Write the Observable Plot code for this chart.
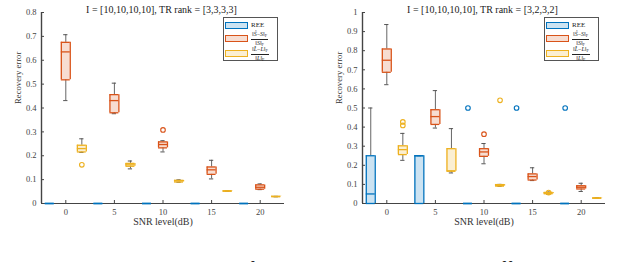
<!DOCTYPE html>
<html><head><meta charset="utf-8">
<script src="https://cdn.jsdelivr.net/npm/d3@7"></script>
<script src="https://cdn.jsdelivr.net/npm/@observablehq/plot@0.6"></script>
<style>
body{margin:0;background:#fff;font-family:"Liberation Serif",serif;overflow:hidden;}
#row{display:flex;width:640px;height:240px;}
.panel{position:relative;width:320px;height:240px;}
.legend{position:absolute;border:1px solid #555;background:#fff;box-sizing:border-box;}
.item{position:absolute;left:1px;display:flex;align-items:center;}
.patch{display:inline-block;width:21px;height:5px;border:1.3px solid;margin-right:3px;}
.lab{font-size:7px;color:#222;line-height:1;}
.frac{display:inline-flex;flex-direction:column;align-items:center;font-size:6px;line-height:1;color:#222;}
.frac .num{border-bottom:0.6px solid #222;padding:0 1px 0.5px;}
.frac sub{font-size:4.2px;vertical-align:-1px;}
#caption{position:absolute;left:0;top:259px;width:900px;font-size:20px;line-height:20px;white-space:nowrap;color:#222;}
</style></head>
<body>
<div id="row"><div class="panel" id="p1"></div><div class="panel" id="p2"></div></div>
<div id="caption">Figure 5: &nbsp;The recovery error of sparse, noise and REE with different SNR levels.</div>
<script>
// ---------- data ----------
const snr = [0, 5, 10, 15, 20];
const seriesNames = ["REE", "S", "L"];
const xTicks = [0, 5, 10, 15, 20];
const yTicks1 = [0, 0.1, 0.2, 0.3, 0.4, 0.5, 0.6, 0.7, 0.8];
const yTicks2 = [0, 0.1, 0.2, 0.3, 0.4, 0.5, 0.6, 0.7, 0.8, 0.9, 1];
const title1 = "I = [10,10,10,10], TR rank = [3,3,3,3]";
const title2 = "I = [10,10,10,10], TR rank = [3,2,3,2]";
const xLabel = "SNR level(dB)";
const yLabel = "Recovery error";

// box stats per SNR: [min, q1, median, q3, max]
const ree1 = [[0,0,0,0,0],[0,0,0,0,0],[0,0,0,0,0],[0,0,0,0,0],[0,0,0,0,0]];
const s1 = [[0.431,0.518,0.635,0.675,0.707],[0.376,0.380,0.431,0.456,0.504],[0.216,0.233,0.247,0.258,0.263],[0.103,0.122,0.141,0.153,0.181],[0.058,0.060,0.068,0.078,0.082]];
const l1 = [[0.214,0.216,0.230,0.244,0.271],[0.145,0.156,0.162,0.168,0.178],[0.089,0.090,0.095,0.097,0.099],[0.051,0.052,0.052,0.053,0.053],[0.028,0.029,0.029,0.030,0.030]];
const out1 = [{snr:10, series:"S", v:0.308},{snr:0, series:"L", v:0.162}];

const ree2 = [[0,0,0.05,0.25,0.5],[0,0,0.25,0.25,0.25],[0,0,0,0,0],[0,0,0,0,0],[0,0,0,0,0]];
const s2 = [[0.622,0.687,0.750,0.809,0.937],[0.395,0.414,0.455,0.491,0.591],[0.208,0.247,0.270,0.287,0.314],[0.120,0.123,0.141,0.155,0.187],[0.063,0.076,0.085,0.093,0.106]];
const l2 = [[0.226,0.256,0.282,0.302,0.367],[0.160,0.169,0.171,0.287,0.392],[0.090,0.091,0.095,0.099,0.100],[0.049,0.051,0.054,0.058,0.060],[0.027,0.028,0.028,0.029,0.030]];
const out2 = [{snr:10, series:"REE", v:0.5},{snr:15, series:"REE", v:0.5},{snr:20, series:"REE", v:0.5},
              {snr:10, series:"S", v:0.363},
              {snr:0, series:"L", v:0.427},{snr:0, series:"L", v:0.409},{snr:10, series:"L", v:0.540},{snr:15, series:"L", v:0.057}];

// ---------- styling ----------
const colors = {REE:"#0072BD", S:"#D95319", L:"#EDB120"};
const offset = {REE:-1.65, S:0, L:1.65};
const halfW = 0.46, capW = 0.22;
const xDomain = [-2.5, 22.5];

function table(ree, s, l) {
  const rows = [];
  [[ "REE", ree ], [ "S", s ], [ "L", l ]].forEach(([name, arr]) => {
    arr.forEach((st, i) => rows.push({snr: snr[i], series: name, min: st[0], q1: st[1], med: st[2], q3: st[3], max: st[4]}));
  });
  return rows;
}

function chart(rows, outs, yDomain, yTicks, title, mL, mR) {
  const xc = d => d.snr + offset[d.series];
  const col = d => colors[d.series];
  return Plot.plot({
    width: 320, height: 240,
    marginLeft: mL, marginRight: mR, marginTop: 12, marginBottom: 37,
    x: {domain: xDomain},
    y: {domain: yDomain},
    style: {fontFamily: "Liberation Serif, serif", background: "#fff", color: "#333"},
    marks: [
      // whiskers
      Plot.ruleX(rows, {x: xc, y1: "q3", y2: "max", stroke: "#666", strokeWidth: 1}),
      Plot.ruleX(rows, {x: xc, y1: "min", y2: "q1", stroke: "#666", strokeWidth: 1}),
      Plot.ruleY(rows, {y: "max", x1: d => xc(d) - capW, x2: d => xc(d) + capW, stroke: "#555", strokeWidth: 1}),
      Plot.ruleY(rows, {y: "min", x1: d => xc(d) - capW, x2: d => xc(d) + capW, stroke: "#555", strokeWidth: 1}),
      // axes lines
      Plot.ruleY([yDomain[0]], {stroke: "#444", strokeWidth: 1.2}),
      Plot.ruleX([xDomain[0]], {stroke: "#444", strokeWidth: 1.4}),
      // box fill
      Plot.rect(rows, {x1: d => xc(d) - halfW, x2: d => xc(d) + halfW, y1: "q1", y2: "q3", fill: col, fillOpacity: 0.2}),
      // box edges
      Plot.ruleY(rows, {y: "q1", x1: d => xc(d) - halfW, x2: d => xc(d) + halfW, stroke: col, strokeWidth: 1.3}),
      Plot.ruleY(rows, {y: "q3", x1: d => xc(d) - halfW, x2: d => xc(d) + halfW, stroke: col, strokeWidth: 1.3}),
      Plot.ruleX(rows, {x: d => xc(d) - halfW, y1: "q1", y2: "q3", stroke: col, strokeWidth: 1.3}),
      Plot.ruleX(rows, {x: d => xc(d) + halfW, y1: "q1", y2: "q3", stroke: col, strokeWidth: 1.3}),
      // median
      Plot.ruleY(rows, {y: "med", x1: d => xc(d) - halfW, x2: d => xc(d) + halfW, stroke: col, strokeWidth: 1.3}),
      // outliers
      Plot.dot(outs, {x: xc, y: "v", r: 2.3, stroke: col, strokeWidth: 1.1, fill: "none"}),
      // axes
      Plot.axisY({ticks: yTicks, tickSize: -3, tickPadding: 8, tickFormat: d => String(d), fontSize: 8.5, stroke: "#444", fill: "#444", label: null}),
      Plot.axisX({ticks: xTicks, tickSize: -3, tickPadding: 8, tickFormat: d => String(d), fontSize: 8.5, stroke: "#444", fill: "#444", label: null}),
      Plot.text([xLabel], {frameAnchor: "bottom", dy: 21, fontSize: 10, fill: "#333"}),
      Plot.text([yLabel], {frameAnchor: "left", dx: -23, dy: -4, rotate: -90, fontSize: 8.7, fill: "#333"}),
      Plot.text([title], {frameAnchor: "top", dy: -6.5, dx: -1.5, fontSize: 10, fill: "#222"})
    ]
  });
}

function legend(container, left) {
  const sLabel = '<span class="frac"><span class="num">‖<i>Ŝ</i>−<i>S</i>‖<sub>F</sub></span><span>‖<i>S</i>‖<sub>F</sub></span></span>';
  const lLabel = '<span class="frac"><span class="num">‖<i>L̂</i>−<i>L</i>‖<sub>F</sub></span><span>‖<i>L</i>‖<sub>F</sub></span></span>';
  const labels = {REE: '<span class="lab">REE</span>', S: sLabel, L: lLabel};
  const tops = {REE: 4, S: 13, L: 28};
  const lg = document.createElement("div");
  lg.className = "legend";
  Object.assign(lg.style, {left: left + "px", top: "17px", width: "55px", height: "44px"});
  seriesNames.forEach(n => {
    const it = document.createElement("div");
    it.className = "item";
    it.style.top = tops[n] + "px";
    const c = d3.color(colors[n]); c.opacity = 0.2;
    it.innerHTML = `<span class="patch" style="border-color:${colors[n]};background:${c.formatRgb()}"></span>${labels[n]}`;
    lg.appendChild(it);
  });
  container.appendChild(lg);
}

const p1 = document.getElementById("p1");
const p2 = document.getElementById("p2");
p1.appendChild(chart(table(ree1, s1, l1), out1, [0, 0.8], yTicks1, title1, 41, 36));
p2.appendChild(chart(table(ree2, s2, l2), out2, [0, 1], yTicks2, title2, 42, 35));
legend(p1, 223);
legend(p2, 224);
</script>
</body></html>
